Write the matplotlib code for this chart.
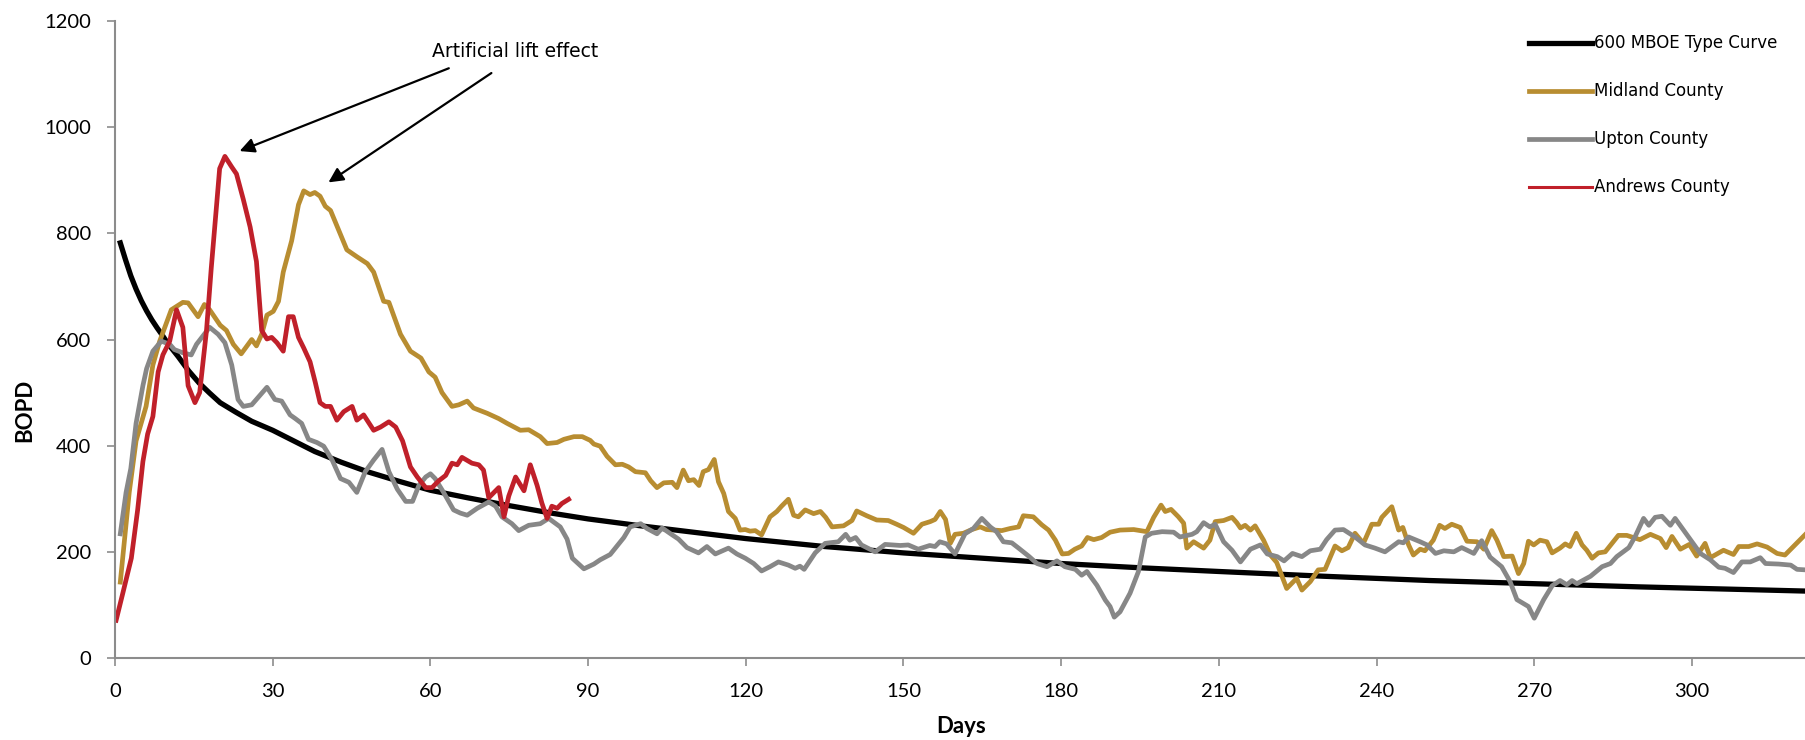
import matplotlib
matplotlib.use("Agg")
import matplotlib.pyplot as plt

# 600 MBOE type curve
type_days = [1, 2, 3, 4, 5, 6, 7, 8, 9, 10, 12, 14, 16, 18, 20, 23, 26, 30, 34, 38,
             43, 48, 54, 60, 67, 75, 83, 90, 100, 110, 120, 135, 150, 165, 180, 195,
             210, 230, 250, 270, 290, 310, 322]
type_bopd = [782, 750, 720, 695, 673, 654, 637, 622, 608, 593, 568, 541, 518, 499, 481,
             463, 446, 429, 409, 389, 369, 351, 333, 316, 302, 287, 273, 262, 249, 237,
             225, 210, 198, 188, 178, 170, 163, 154, 146, 140, 134, 129, 126]

midland_days = [1, 2.7, 4, 5.9, 7.2, 8.5, 10.7, 12.9, 13.9, 15.8, 17, 18, 20, 21.2, 22.5, 24, 26,
                26.9, 27.9, 28.9, 30.1, 31.1, 32, 33.6, 34.9, 35.9, 37.1, 38, 39, 40, 41, 42.6,
                44.1, 46, 48, 49.2, 51.1, 52.1, 54.3, 56.2, 58.2, 59.7, 60.9, 62.2, 64.1, 65.4,
                67, 68.2, 70.8, 73, 74.6, 77.1, 78.7, 80.9, 82.2, 84.1, 85.4, 87.3, 88.9, 90.4,
                91.1, 92.3, 93.6, 95.2, 96.5, 97.7, 99, 100.9, 101.9, 103.1, 104.4, 106, 106.9,
                108.1, 109.1, 110.1, 111.1, 111.9, 112.9, 114, 114.8, 115.8, 116.7, 118, 118.9,
                119.9, 120.8, 121.8, 123, 124.6, 125.9, 126.8, 128.1, 129.1, 130, 131.3, 132.9,
                134.2, 135.2, 136.4, 138.6, 140.2, 141.1, 143, 144.9, 147.1, 148.7, 150, 151.9,
                153.5, 155.1, 156, 157, 158, 158.9, 159.8, 161.4, 163, 164.6, 165.8, 168.7,
                170.3, 171.9, 172.8, 174.7, 176.3, 177.6, 178.9, 180.2, 181.4, 182.6, 183.9, 185,
                186.2, 187.7, 189.3, 191.2, 193.8, 196.3, 197.6, 199, 199.8, 200.9, 202.3,
                203.3, 203.9, 205.2, 207.1, 208.3, 209.3, 210.9, 212.5, 213.4, 214.1, 215, 216,
                216.9, 218.5, 219.8, 221, 222.9, 224.8, 225.8, 227.4, 228.9, 230.2, 232.1,
                233.4, 234.6, 235.9, 237.5, 239.1, 240.4, 241, 242.9, 244.2, 245, 246.1, 247,
                248.3, 249.2, 250.8, 252, 253, 254.3, 255.9, 257.2, 259.1, 260.4, 261.9, 262.9,
                264.2, 265.8, 267, 268, 268.9, 269.9, 271.1, 272.4, 273.4, 274.9, 275.9, 276.8,
                278, 279.1, 280, 281, 282.2, 283.5, 286, 287.6, 290.1, 292.1, 294, 295.1, 296.2,
                297.8, 299.5, 300.9, 302.5, 303.5, 306, 307.9, 308.9, 310.8, 312.4, 314.3,
                316.2, 317.7, 319.3, 321.7]
midland_bopd = [143, 312, 409, 474, 552, 597, 656, 670, 669, 643, 666, 656, 627, 617, 591, 573,
                600, 588, 610, 646, 653, 672, 727, 786, 854, 880, 873, 877, 870, 851, 843, 805,
                769, 756, 743, 727, 672, 670, 610, 578, 565, 539, 529, 500, 474, 477, 484, 471,
                461, 451, 442, 429, 430, 417, 404, 406, 412, 417, 417, 410, 403, 399, 380, 364,
                365, 360, 351, 349, 334, 321, 330, 331, 321, 354, 334, 336, 325, 351, 355, 374,
                332, 310, 276, 263, 241, 242, 239, 240, 232, 266, 276, 286, 299, 269, 266, 279,
                272, 276, 265, 247, 249, 259, 277, 268, 260, 259, 252, 246, 235, 252, 257, 261,
                276, 261, 216, 233, 235, 242, 247, 242, 240, 244, 247, 268, 266, 251, 241, 222,
                196, 197, 205, 211, 227, 223, 227, 237, 241, 242, 238, 265, 288, 276, 280, 266,
                254, 207, 219, 207, 222, 257, 259, 265, 255, 245, 250, 241, 249, 222, 194, 180,
                131, 150, 128, 144, 166, 167, 211, 202, 208, 235, 216, 252, 252, 265, 285, 241,
                246, 213, 194, 205, 202, 222, 250, 244, 252, 246, 220, 219, 205, 240, 222, 191,
                192, 159, 178, 220, 213, 222, 219, 198, 207, 215, 210, 235, 213, 203, 188, 198,
                200, 231, 231, 223, 233, 225, 208, 229, 205, 214, 192, 216, 189, 203, 195, 210,
                210, 215, 209, 197, 194, 210, 234]

upton_days = [1, 2.1, 3, 4, 5.3, 6, 7.2, 8.8, 10.4, 11.3, 12.9, 14.5, 15.5, 17, 18, 19.6, 20.9,
              22.2, 23.4, 24.4, 26, 28.9, 30.4, 31.7, 33.3, 34.3, 35.5, 36.8, 38.4, 39.7, 41.3,
              42.9, 44.5, 46, 47.6, 49.2, 50.8, 52.1, 53.7, 55.3, 56.6, 57.8, 59.1, 60, 60.9,
              62.5, 64.4, 65.7, 67, 68.9, 71.1, 72.4, 73.6, 75.5, 76.8, 78.7, 80.9, 82.5, 84.7,
              86, 87, 89.2, 91.1, 92.3, 94.2, 95.5, 96.8, 98, 100, 101.2, 103.1, 104.1, 105.7,
              107.2, 108.8, 111, 112.6, 114.2, 116.7, 118.3, 119.9, 121.5, 123, 124.6, 126.2,
              128.1, 129.4, 130.3, 131.1, 133.2, 135.1, 137.6, 139, 139.8, 140.9, 142, 144.6,
              146.5, 149.4, 150.9, 152.8, 155, 156, 156.9, 158.2, 159.8, 161.7, 163.3, 164.9,
              166.5, 167.7, 169, 170.6, 171.9, 173.8, 175.4, 177.3, 179.2, 180.7, 182.7, 183.9,
              184.9, 186.8, 188.4, 189.3, 190.1, 191.2, 193.1, 194.7, 196, 197.2, 199.2, 201.4,
              202.6, 204.9, 205.8, 207.1, 208.3, 209.3, 210.9, 212.5, 214.1, 216, 217.9, 219.2,
              221.1, 222.4, 224, 225.8, 227.4, 229.3, 230.5, 232.1, 233.7, 235.9, 237.8, 239.7,
              241.6, 244.2, 245.1, 246.1, 248.3, 249.6, 251.2, 252.8, 254.7, 256.2, 258.5, 260,
              261.6, 263.8, 265.4, 266.7, 268.9, 270, 271.8, 273.4, 274.9, 276.2, 277.2, 278.1,
              280.7, 282.9, 284.5, 285.7, 288, 289.2, 290.8, 291.8, 293, 294.3, 295.9, 296.8,
              298.4, 300, 301.6, 303.5, 305.1, 306.3, 307.9, 309.5, 311.1, 313, 314, 316.5,
              318.8, 320, 321.7]
upton_bopd = [234, 312, 357, 442, 513, 545, 578, 597, 591, 581, 575, 571, 591, 610, 623, 610, 594,
              552, 487, 474, 477, 510, 487, 484, 458, 451, 442, 412, 406, 399, 373, 338, 331, 312,
              351, 373, 393, 351, 318, 295, 295, 325, 341, 347, 338, 312, 279, 273, 269, 282, 294,
              286, 266, 253, 240, 250, 253, 263, 247, 224, 188, 168, 177, 185, 195, 211, 227, 247,
              253, 244, 234, 245, 234, 224, 208, 198, 210, 196, 207, 196, 188, 178, 164, 172, 181,
              175, 169, 173, 167, 198, 216, 219, 233, 222, 227, 213, 200, 214, 212, 213, 205, 212,
              210, 219, 215, 196, 234, 244, 263, 247, 238, 219, 217, 207, 192, 178, 172, 183, 172,
              167, 156, 163, 137, 109, 97, 77, 87, 122, 163, 228, 235, 238, 237, 228, 233, 238,
              255, 247, 252, 219, 203, 181, 205, 213, 196, 191, 183, 197, 191, 202, 205, 223, 241,
              242, 228, 213, 207, 200, 219, 217, 228, 219, 213, 197, 202, 200, 208, 197, 221, 190,
              172, 144, 110, 97, 75, 110, 136, 146, 138, 146, 140, 154, 172, 178, 191, 208, 229,
              263, 250, 265, 267, 250, 263, 241, 219, 197, 185, 171, 169, 161, 181, 181, 189, 178,
              177, 175, 167, 166]

andrews_days = [0.2, 1.5, 3.1, 4.3, 5.3, 6.2, 7.2, 8.2, 9.1, 10.4, 11.7, 12.9, 13.9, 15.2, 16.1,
                17.4, 18.3, 19.3, 19.9, 20.9, 22.2, 23.1, 24.4, 25.7, 26.9, 27.9, 28.9, 29.8,
                30.8, 32, 33, 33.9, 34.9, 35.9, 37.1, 38.1, 39, 40, 41, 42.2, 43.5, 45.1, 46,
                47.3, 49.2, 50.5, 52.1, 53.4, 54.7, 56.2, 57.5, 59.1, 60.3, 61.6, 62.9, 64.1,
                65.1, 66, 67.9, 69.2, 70.1, 71.1, 73, 74, 74.9, 76.2, 77.8, 79, 80.3, 81.2, 82.2,
                83.1, 84.1, 85, 86.3]
andrews_bopd = [71, 123, 188, 279, 370, 422, 455, 539, 571, 597, 656, 623, 513, 481, 500, 617,
                734, 851, 922, 945, 925, 912, 864, 812, 747, 617, 601, 604, 594, 578, 643, 643,
                604, 584, 558, 519, 481, 474, 474, 448, 464, 474, 448, 458, 429, 435, 445, 435,
                409, 360, 341, 321, 321, 334, 344, 367, 364, 378, 367, 364, 354, 302, 321, 266,
                305, 341, 315, 364, 325, 292, 263, 286, 282, 291, 299]

series_names = ['600 MBOE Type Curve', 'Midland County', 'Upton County', 'Andrews County']
x_ticks = list(range(0, 301, 30))
y_ticks = list(range(0, 1201, 200))

fig = plt.figure(figsize=(18.06, 7.40), dpi=100)
ax = fig.add_axes([0.0637, 0.1108, 0.9363, 0.8608])

ax.plot(type_days, type_bopd, color='black', lw=3.8, label=series_names[0])
ax.plot(midland_days, midland_bopd, color='#B88D31', lw=3.4, label=series_names[1])
ax.plot(upton_days, upton_bopd, color='#878787', lw=3.4, label=series_names[2])
ax.plot(andrews_days, andrews_bopd, color='#C0202A', lw=3.4, label=series_names[3])

ax.set_xticks(x_ticks)
ax.set_yticks(y_ticks)
ax.set_xlim(0, 321.7)
ax.set_ylim(0, 1200)

for s in ['top', 'right']:
    ax.spines[s].set_visible(False)
for s in ['left', 'bottom']:
    ax.spines[s].set_color('#8C8C8C')
    ax.spines[s].set_linewidth(1.5)
ax.tick_params(axis='both', colors='#8C8C8C', width=1.2, length=6, labelcolor='black')
ax.tick_params(axis='y', pad=11)
ax.tick_params(axis='x', pad=12)
for lab in ax.get_xticklabels() + ax.get_yticklabels():
    lab.set_family('Lato')
    lab.set_fontsize(14.5)

fig.text(0.0138, 0.446, 'BOPD', rotation=90, ha='center', va='center',
         family='Lato', fontweight='bold', fontsize=16)
fig.text(0.532, 0.0176, 'Days', ha='center', va='center',
         family='Lato', fontweight='bold', fontsize=16)

# annotation: two arrows towards the early peaks
ax.text(76.1, 1143, 'Artificial lift effect', ha='center', va='center',
        family='DejaVu Sans', fontsize=13.5)
arrow = dict(arrowstyle='-|>', color='black', lw=1.6, mutation_scale=22,
             shrinkA=0, shrinkB=0)
ax.annotate('', xy=(23.7, 955), xytext=(63.5, 1111), arrowprops=arrow)
ax.annotate('', xy=(40.6, 896), xytext=(71.6, 1102), arrowprops=arrow)

leg = ax.legend(loc='upper left', bbox_to_anchor=(0.8466, 0.9534),
                bbox_transform=fig.transFigure, frameon=False, borderpad=0,
                borderaxespad=0, handlelength=3.8, handletextpad=0.1,
                labelspacing=1.8, prop={'family': 'DejaVu Sans', 'size': 12})
leg.get_lines()[3].set_linewidth(2.2)

fig.savefig('out.png', dpi=100)
